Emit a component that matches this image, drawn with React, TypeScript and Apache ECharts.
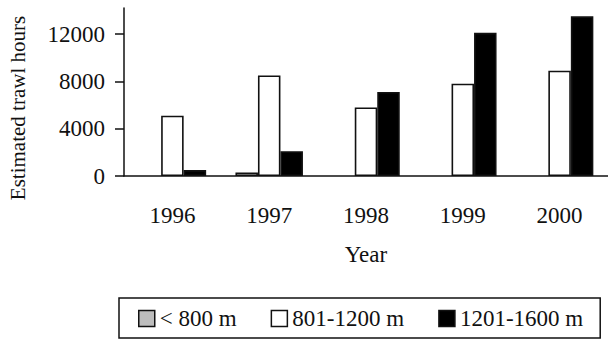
import React, { useEffect, useRef } from "react";
import * as echarts from "echarts";

const years = ["1996", "1997", "1998", "1999", "2000"];
const seriesNames = ["< 800 m", "801-1200 m", "1201-1600 m"];
const shallow = [null, 300, null, null, null];
const mid = [5100, 8500, 5800, 7800, 8900];
const deep = [500, 2100, 7100, 12100, 13500];
const yTicks = [0, 4000, 8000, 12000];

const FONT = "'Liberation Serif', 'Times New Roman', serif";

export default function App() {
  const ref = useRef<HTMLDivElement>(null);
  useEffect(() => {
    document.body.style.margin = "0";
    const chart = echarts.init(ref.current!, null, { renderer: "svg" });
    const barStyle = (fill: string) => ({
      color: fill,
      borderColor: "#111",
      borderWidth: 1.6,
    });
    chart.setOption({
      animation: false,
      backgroundColor: "#fff",
      textStyle: { fontFamily: FONT },
      grid: { left: 124, top: 8, width: 490, height: 168 },
      xAxis: {
        type: "category",
        data: years,
        name: "Year",
        nameLocation: "middle",
        nameGap: 67,
        nameTextStyle: { fontSize: 23, color: "#111", fontFamily: FONT },
        axisLine: { lineStyle: { color: "#111", width: 1.5 } },
        axisTick: { length: 9, lineStyle: { color: "#111", width: 1.5 } },
        axisLabel: { margin: 28, fontSize: 23, color: "#111", fontFamily: FONT },
      },
      yAxis: {
        type: "value",
        min: 0,
        max: 14200,
        splitLine: { show: false },
        axisLine: { show: true, lineStyle: { color: "#111", width: 1.5 } },
        axisTick: {
          show: true,
          length: 9,
          customValues: yTicks,
          lineStyle: { color: "#111", width: 1.5 },
        },
        axisLabel: {
          margin: 19,
          fontSize: 23,
          color: "#111",
          fontFamily: FONT,
          customValues: yTicks,
          formatter: (v: number) => String(v),
        },
      },
      legend: {
        left: 119,
        top: 298,
        orient: "horizontal",
        padding: [9, 17, 8, 19],
        borderColor: "#111",
        borderWidth: 1.5,
        itemGap: 34,
        itemWidth: 16,
        itemHeight: 16,
        icon: "rect",
        itemStyle: { borderColor: "#111", borderWidth: 1.5 },
        textStyle: { fontSize: 23, color: "#111", fontFamily: FONT },
        data: seriesNames,
      },
      graphic: [
        {
          type: "text",
          x: 18,
          y: 108,
          rotation: Math.PI / 2,
          style: {
            text: "Estimated trawl hours",
            fontSize: 21,
            fontFamily: FONT,
            fill: "#111",
            align: "center",
            verticalAlign: "middle",
          },
        },
      ],
      series: [
        {
          name: seriesNames[0],
          type: "bar",
          data: shallow,
          barWidth: 22.5,
          barGap: "0%",
          itemStyle: barStyle("#bdbdbd"),
        },
        {
          name: seriesNames[1],
          type: "bar",
          data: mid,
          barWidth: 22.5,
          barGap: "0%",
          itemStyle: barStyle("#ffffff"),
        },
        {
          name: seriesNames[2],
          type: "bar",
          data: deep,
          barWidth: 22.5,
          barGap: "0%",
          itemStyle: barStyle("#000000"),
        },
      ],
    });
    return () => chart.dispose();
  }, []);
  return <div ref={ref} style={{ width: 608, height: 340 }} />;
}
